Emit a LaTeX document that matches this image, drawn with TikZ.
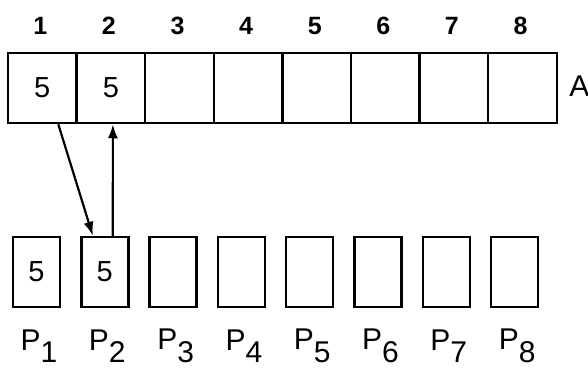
\documentclass[tikz,border=0pt]{standalone}
\usepackage{fontspec}
\setmainfont{Liberation Sans}
\usetikzlibrary{positioning,arrows.meta}

\newcommand{\proc}[1]{P\raisebox{-0.42em}{#1}}

\begin{document}
\begin{tikzpicture}[
  x=0.5pt, y=-0.5pt,
  cell/.style={
    rectangle, draw=black, line width=1.25pt,
    minimum width=34.3pt, minimum height=35pt,
    inner sep=0pt, font=\fontsize{14.5}{16}\selectfont
  },
  pbox/.style={cell, minimum width=23.5pt},
  idx/.style={font=\bfseries\fontsize{12.5}{14}\selectfont, inner sep=0pt},
  plabel/.style={font=\fontsize{15}{17}\selectfont, inner sep=0pt},
  move/.style={
    -{Latex[length=7pt,width=5pt]},
    draw=black, line width=1.1pt
  }
]
\useasboundingbox (0,0) rectangle (588,369);

% ─── Array A ────────────────────────────────────────────────
\foreach \i/\v in {1/5,2/5,3/,4/,5/,6/,7/,8/} {
  \node[cell] (a\i) at ({8+68.6*(\i-0.5)}, 88) {\v};
  \node[idx]  (n\i) at ({8+68.6*(\i-0.5)-2}, 26) {\i};
}
\node[plabel, anchor=west] (arr) at (569, 86) {A};

% ─── Processors ─────────────────────────────────────────────
\foreach \i/\v in {1/5,2/5,3/,4/,5/,6/,7/,8/} {
  \node[pbox]   (p\i) at ({36.5+68.3*(\i-1)}, 272) {\v};
  \node[plabel] (l\i) at ({39+68.3*(\i-1)}, 346) {\proc{\i}};
}

% ─── Read / write ───────────────────────────────────────────
\draw[move] ([xshift=8pt]a1.south) -- ([xshift=-6pt]p2.north);
\draw[move] ([xshift=4pt]p2.north) -- ([xshift=1pt]a2.south);

\end{tikzpicture}
\end{document}
